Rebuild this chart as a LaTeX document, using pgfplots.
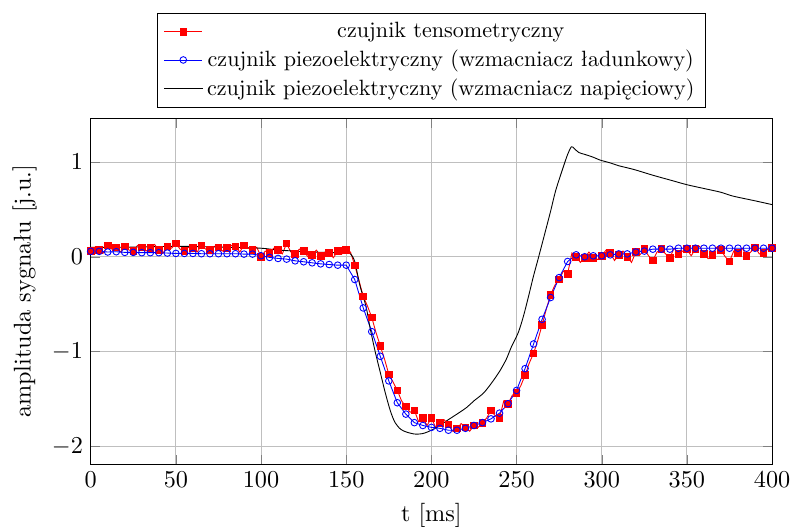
\documentclass[border=0pt]{standalone}
\usepackage{pgfplots}
\pgfplotsset{compat=1.18}
\usepackage{pgfplotstable}

\pgfplotstableread{
x y
0 0.06
2.5 0.10
5 0.07
7.5 0.04
10 0.12
12.5 0.08
15 0.10
17.5 0.05
20 0.11
22.5 0.07
25 0.06
27.5 0.12
30 0.10
32.5 0.06
35 0.09
37.5 0.13
40 0.07
42.5 0.04
45 0.11
47.5 0.09
50 0.14
52.5 0.08
55 0.06
57.5 0.10
60 0.09
62.5 0.05
65 0.12
67.5 0.08
70 0.07
72.5 0.11
75 0.10
77.5 0.06
80 0.09
82.5 0.12
85 0.11
87.5 0.05
90 0.12
92.5 0.09
95 0.07
97.5 0.10
100 0.00
102.5 0.06
105 0.04
107.5 0.09
110 0.07
112.5 0.03
115 0.14
117.5 0.05
120 0.03
122.5 0.08
125 0.06
127.5 0.00
130 0.02
132.5 0.07
135 0.01
137.5 0.05
140 0.04
142.5 -0.01
145 0.06
147.5 0.03
150 0.07
152.5 0.05
155 -0.09
157.5 -0.25
160 -0.42
162.5 -0.52
165 -0.64
167.5 -0.80
170 -0.94
172.5 -1.08
175 -1.24
177.5 -1.32
180 -1.41
182.5 -1.52
185 -1.58
187.5 -1.64
190 -1.62
192.5 -1.74
195 -1.70
197.5 -1.78
200 -1.70
202.5 -1.80
205 -1.75
207.5 -1.72
210 -1.77
212.5 -1.84
215 -1.81
217.5 -1.76
220 -1.80
222.5 -1.84
225 -1.78
227.5 -1.80
230 -1.75
232.5 -1.70
235 -1.62
237.5 -1.68
240 -1.70
242.5 -1.52
245 -1.55
247.5 -1.46
250 -1.44
252.5 -1.36
255 -1.25
257.5 -1.12
260 -1.02
262.5 -0.88
265 -0.72
267.5 -0.55
270 -0.40
272.5 -0.30
275 -0.24
277.5 -0.15
280 -0.18
282.5 0.04
285 0.00
287.5 -0.06
290 -0.01
292.5 0.05
295 -0.01
297.5 -0.03
300 0.01
302.5 0.07
305 0.04
307.5 -0.04
310 0.02
312.5 0.06
315 0.00
317.5 -0.06
320 0.05
322.5 0.02
325 0.08
327.5 0.01
330 -0.04
332.5 0.05
335 0.08
337.5 0.03
340 -0.01
342.5 0.09
345 0.03
347.5 0.06
350 0.08
352.5 0.01
355 0.08
357.5 0.11
360 0.03
362.5 -0.02
365 0.02
367.5 0.10
370 0.07
372.5 0.00
375 -0.05
377.5 0.06
380 0.04
382.5 0.09
385 0.01
387.5 0.05
390 0.10
392.5 0.03
395 0.04
397.5 0.08
400 0.09
}\tenso

\pgfplotstableread{
x y
0 0.057
5 0.057
10 0.050
15 0.053
20 0.046
25 0.046
30 0.043
35 0.043
40 0.043
45 0.039
50 0.035
55 0.035
60 0.035
65 0.032
70 0.032
75 0.032
80 0.032
85 0.032
90 0.028
95 0.028
100 0.011
105 -0.007
110 -0.018
115 -0.025
120 -0.043
125 -0.053
130 -0.064
135 -0.075
140 -0.082
145 -0.089
150 -0.089
155 -0.24
160 -0.54
165 -0.79
170 -1.05
175 -1.31
180 -1.54
185 -1.66
190 -1.75
195 -1.78
200 -1.80
205 -1.81
210 -1.83
215 -1.83
220 -1.81
225 -1.78
230 -1.75
235 -1.71
240 -1.65
245 -1.55
250 -1.41
255 -1.18
260 -0.92
265 -0.66
270 -0.43
275 -0.22
280 -0.05
285 0.02
290 0.00
295 0.01
300 0.01
305 0.02
310 0.03
315 0.03
320 0.05
325 0.06
330 0.08
335 0.08
340 0.08
345 0.09
350 0.09
355 0.09
360 0.09
365 0.09
370 0.09
375 0.09
380 0.09
385 0.09
390 0.09
395 0.09
400 0.09
}\ladunk

\pgfplotstableread{
x y
0 0.10
20 0.10
50 0.11
80 0.10
100 0.09
110 0.07
120 0.06
130 0.05
140 0.045
150 0.04
152.5 0.03
155 -0.05
158 -0.30
161.7 -0.53
164 -0.75
167 -1.00
170 -1.22
173 -1.44
176 -1.63
178.7 -1.75
182 -1.82
185.5 -1.85
190 -1.87
193 -1.87
196 -1.86
200 -1.83
205 -1.78
209 -1.73
215 -1.66
220.7 -1.59
225 -1.52
230.5 -1.44
235 -1.34
240 -1.21
244 -1.08
247 -0.95
251 -0.80
254 -0.63
257 -0.42
260 -0.20
263 0.00
269.7 0.46
273 0.70
277.5 0.95
280 1.08
282.2 1.16
284 1.14
286.5 1.10
290 1.08
295 1.05
299 1.02
305 0.99
310 0.96
319 0.92
330 0.86
340 0.81
350 0.76
360 0.72
370 0.68
377 0.64
390 0.59
400 0.55
}\napiec

\begin{document}
\begin{tikzpicture}
\useasboundingbox (-41pt,-28.1pt) rectangle (316.1pt,209.9pt);
\begin{axis}[
  at={(0,0)}, anchor=south west,
  scale only axis,
  width=308pt, height=156.4pt,
  xmin=0, xmax=400,
  ymin=-2.19, ymax=1.46,
  xtick={0,50,...,400},
  ytick={-2,-1,0,1},
  grid=major,
  tick label style={font=\fontsize{10.95}{13.6}\selectfont},
  label style={font=\fontsize{10.95}{13.6}\selectfont},
  xlabel={t [ms]},
  ylabel={amplituda sygnału [j.u.]},
  legend cell align=center,
  legend style={at={(0.5,1.03)}, anchor=south, font=\normalsize},
]
\addplot[red, mark=square*, mark size=1.5pt, mark repeat=2, mark options={solid, fill=red}] table[x=x,y=y] {\tenso};
\addlegendentry{czujnik tensometryczny}
\addplot[blue, mark=o, mark size=1.5pt, mark options={solid}] table[x=x,y=y] {\ladunk};
\addlegendentry{czujnik piezoelektryczny (wzmacniacz ładunkowy)}
\addplot[black, no marks, smooth] table[x=x,y=y] {\napiec};
\addlegendentry{czujnik piezoelektryczny (wzmacniacz napięciowy)}
\end{axis}
\end{tikzpicture}
\end{document}
